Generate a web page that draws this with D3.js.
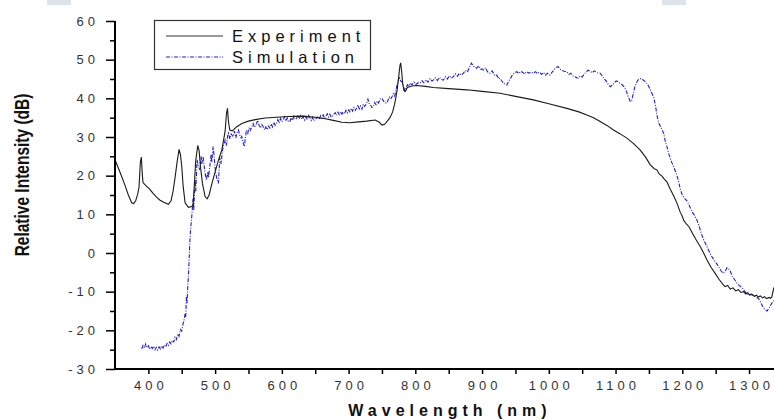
<!DOCTYPE html>
<html>
<head>
<meta charset="utf-8">
<script src="https://cdn.jsdelivr.net/npm/d3@7"></script>
<style>
  html, body { margin: 0; padding: 0; background: #fff; overflow: hidden; }
  svg { display: block; }
  text { font-family: "Liberation Sans", Arial, sans-serif; }
</style>
</head>
<body>
<svg id="chart" width="774" height="419"></svg>
<script>
// Measured spectrum (black) — wavelength in nm, intensity in dB
const expWavelength = [350,355,360,365,370,375,378,381,384,386,388,389.5,391,392,397,402,407,412,417,423,430,434,437,440,443,446,448,450,452,455,460,465,467,469,471,474,476,478,481,485,488,491,495,500,505,510,513,515,517,518.5,520,522,526,532,540,550,560,575,592,610,632,650,665,677,690,702,715,727,740,746,750,754,758,762,766,769,771,773,775,777,778,779.5,781,783,785,788,795,802,815,827,850,877,900,927,950,977,1000,1027,1045,1057,1067,1077,1087,1097,1107,1117,1127,1137,1145,1152,1158,1162,1165,1170,1172,1177,1182,1187,1192,1197,1200,1202,1206,1210,1214,1220,1227,1232,1237,1243,1249,1255,1260,1264,1268,1272,1276,1280,1284,1288,1292,1295,1298,1301,1304,1308,1311,1314,1317,1320,1323,1326,1330,1332,1334,1337,1342];
const experiment    = [24.1,22.0,19.8,17.5,15.0,13.0,12.8,13.5,15.2,17.0,23.5,24.8,20.0,18.2,17.3,16.5,15.4,14.5,13.7,13.1,12.6,13.5,16.0,19.5,23.5,26.8,25.5,22.5,17.5,13.0,11.8,12.0,12.5,18.0,24.0,27.8,26.5,22.5,18.0,14.6,14.0,15.0,17.8,21.0,24.0,26.6,29.5,31.5,36.0,37.4,34.0,31.8,31.6,32.6,33.5,34.1,34.5,34.9,35.1,35.3,35.4,35.1,34.7,34.3,33.8,33.7,33.9,34.1,34.4,33.8,33.1,33.3,34.1,35.0,36.5,38.5,40.4,42.5,45.5,48.5,49.2,47.0,43.9,42.0,41.8,42.8,43.2,43.3,43.1,42.8,42.5,42.2,41.8,41.3,40.5,39.6,38.6,37.4,36.5,35.7,35.0,34.0,33.0,31.8,30.8,29.7,28.3,26.6,24.8,22.8,21.8,21.5,20.5,19.8,19.3,18.4,16.5,14.8,12.9,10.5,9.5,8.5,7.5,6.8,5.5,3.6,1.6,0.0,-1.8,-3.7,-5.2,-6.8,-7.9,-8.7,-8.4,-9.3,-9.0,-9.8,-9.5,-10.2,-10.0,-10.6,-10.3,-10.9,-10.7,-11.2,-10.9,-11.4,-11.1,-11.6,-11.3,-11.8,-11.5,-11.7,-11.4,-9.1,-10.2,-7.5,-8.0];

// Simulated spectrum (blue, dash-dot)
const simWavelength = [390,392,394,396,398,400,402,404,406,408,410,412,414,416,418,420,422,424,426,428,430,432,434,436,438,440,442,444,446,448,450,452,454,455,456,457,458,459,460,461,462,463,465,467,468,470,471,473,475,477,479,480,482,484,486,487,489,490,492,494,495,497,498,500,501,503,505,506,507,509,511,513,515,517,519,520,522,524,527,529,531,533,535,537,539,540,542,544,545,547,549,551,553,555,557,559,562,564,566,568,570,572,574,576,578,580,582,584,586,588,590,592,594,596,598,600,602,604,606,608,610,612,614,616,618,620,622,624,626,628,630,632,634,636,638,640,642,644,646,648,650,652,654,656,658,660,662,664,666,668,670,672,674,677,680,682,684,686,688,690,692,694,696,698,700,702,704,706,708,710,712,714,716,718,720,722,724,727,729,731,733,735,737,739,741,743,745,747,750,752,754,757,759,761,763,765,767,769,771,772,774,776,778,780,782,784,786,788,790,792,795,798,801,804,807,810,813,816,819,822,825,827,830,833,836,839,842,845,848,851,854,857,860,863,866,869,872,875,878,881,884,887,890,892,895,898,900,902,905,908,910,912,915,918,920,922,925,927,929,932,935,937,940,943,946,949,952,955,958,961,964,967,970,973,977,980,983,986,989,992,995,998,1002,1005,1008,1011,1014,1017,1020,1023,1027,1030,1033,1036,1039,1042,1044,1047,1050,1053,1056,1059,1062,1065,1068,1071,1074,1077,1080,1083,1086,1089,1092,1095,1098,1101,1104,1107,1110,1113,1116,1119,1122,1124,1126,1129,1132,1135,1138,1141,1144,1147,1150,1153,1157,1160,1162,1165,1168,1172,1175,1177,1180,1184,1187,1190,1194,1197,1200,1204,1207,1210,1214,1218,1222,1226,1229,1232,1236,1240,1243,1246,1250,1254,1258,1261,1264,1267,1270,1272,1275,1278,1282,1286,1290,1293,1296,1300,1304,1308,1311,1315,1318,1321,1324,1327,1329,1331,1334,1337,1340];
const simulation    = [-24.8,-23.9,-24.6,-23.5,-24.4,-24.0,-24.9,-24.2,-24.7,-24.1,-25.0,-24.4,-25.1,-24.3,-24.8,-24.0,-24.6,-23.8,-24.3,-23.4,-23.9,-23.0,-23.5,-22.6,-23.0,-21.8,-22.4,-20.9,-21.5,-19.8,-20.2,-18.3,-17.0,-15.6,-16.5,-11.3,-13.0,-8.5,-6.1,-2.0,2.5,5.5,9.4,14.0,11.0,18.9,16.0,24.1,22.5,21.5,25.0,23.0,24.9,22.0,19.5,18.9,21.0,19.5,22.3,25.5,23.5,27.5,26.0,22.0,20.6,19.0,18.0,21.5,24.9,23.0,26.6,28.0,29.2,27.8,30.5,31.0,29.5,30.8,30.1,31.5,29.8,31.2,31.8,30.5,29.8,30.1,28.5,27.5,29.5,31.8,31.0,32.5,31.8,32.7,33.5,32.5,33.5,34.3,33.0,32.3,33.2,32.7,31.8,32.6,31.9,32.8,32.3,33.4,32.6,33.8,33.0,33.5,34.5,33.6,34.8,34.0,34.4,35.2,34.1,34.9,33.9,34.0,35.0,34.3,35.4,34.6,34.8,35.6,34.7,35.5,34.6,35.3,34.4,35.2,34.5,35.6,35.0,34.3,35.1,34.2,34.9,34.8,35.4,34.6,35.5,34.9,35.7,34.8,35.3,36.0,35.2,35.9,35.1,35.7,36.3,35.6,36.4,35.8,36.6,35.9,36.5,36.0,36.9,36.2,37.0,36.5,37.4,36.7,37.6,36.9,37.5,38.3,37.3,38.0,37.2,38.5,37.9,38.7,39.8,38.6,38.2,37.6,37.8,38.9,38.4,39.3,38.8,39.8,40.0,39.4,38.9,38.7,39.5,40.3,39.8,40.4,41.2,40.6,42.0,43.0,44.3,45.6,44.5,44.3,43.2,42.0,42.6,43.5,43.1,43.9,43.5,44.2,43.6,44.0,43.9,44.6,44.0,44.8,44.2,45.1,44.5,44.7,45.3,44.6,45.4,44.9,44.7,45.6,45.0,45.8,45.2,45.6,46.3,45.7,46.5,46.0,46.5,47.2,46.8,48.0,49.1,48.3,48.0,47.8,48.4,47.5,47.6,47.3,47.9,46.9,46.6,46.5,47.1,46.2,45.8,46.0,45.0,45.2,44.6,44.0,43.6,43.4,44.5,45.3,46.2,46.6,46.9,46.4,47.0,46.7,46.3,46.9,46.5,46.8,46.5,46.9,46.4,46.8,46.2,46.7,46.0,46.5,46.0,46.8,47.4,48.0,48.2,47.5,47.2,47.0,46.9,46.2,46.5,45.8,45.6,45.3,45.2,45.8,45.5,46.3,46.8,47.3,47.0,46.6,47.1,46.8,46.5,46.5,45.8,45.0,44.5,43.6,43.0,43.4,44.0,44.5,44.3,43.8,43.5,43.0,41.9,40.5,39.2,39.4,40.8,43.0,44.3,45.0,45.1,44.8,44.4,43.9,43.0,41.8,40.4,38.0,35.6,33.5,32.5,31.0,28.5,27.5,25.5,23.5,22.3,21.0,18.9,16.5,15.0,14.0,13.5,12.5,10.8,9.8,8.5,6.5,4.8,3.4,2.0,0.5,-0.6,-1.4,-2.4,-3.4,-4.6,-5.2,-4.8,-3.8,-4.2,-4.8,-6.0,-6.8,-7.8,-8.5,-9.0,-9.8,-10.4,-10.8,-10.6,-11.2,-11.3,-12.0,-13.0,-14.0,-14.7,-15.0,-14.5,-13.9,-13.0,-12.4,-12.0];

// Axis ticks
const xMajorTicks = [400,500,600,700,800,900,1000,1100,1200,1300];
const xMinorTicks = [450,550,650,750,850,950,1050,1150,1250,1350];
const yMajorTicks = [60,50,40,30,20,10,0,-10,-20,-30];
const yMajorLabels = ["60","50","40","30","20","10","0","-10","-20","-30"];
const yMinorTicks = [55,45,35,25,15,5,-5,-15,-25];

const seriesNames = ["Experiment", "Simulation"];

const svg = d3.select("#chart");

// Soft grey tabs along the top edge
svg.append("rect").attr("x", 47).attr("y", 0).attr("width", 24).attr("height", 5).attr("fill", "#dde3ea");
svg.append("rect").attr("x", 662).attr("y", 0).attr("width", 24).attr("height", 5).attr("fill", "#dde3ea");

const x = d3.scaleLinear().domain([350, 1350]).range([115, 782.4]);
const y = d3.scaleLinear().domain([-30, 60]).range([369, 21]);

const lineGen = d3.line().x(d => x(d[0])).y(d => y(d[1]));

const expData = expWavelength.map((w, i) => [w, experiment[i]]);
const simData = simWavelength.map((w, i) => [w, simulation[i]]);

// Curves
svg.append("path")
  .datum(simData)
  .attr("d", lineGen)
  .attr("fill", "none")
  .attr("stroke", "#1f1fc8")
  .attr("stroke-width", 1.1)
  .attr("stroke-dasharray", "4,1.5,1,1.5");

svg.append("path")
  .datum(expData)
  .attr("d", lineGen)
  .attr("fill", "none")
  .attr("stroke", "#1a1a1a")
  .attr("stroke-width", 1.1);

// Y axis
const yAxis = svg.append("g").attr("transform", "translate(115,0)");
yAxis.call(d3.axisLeft(y).tickValues(yMajorTicks).tickSize(9).tickFormat((d, i) => yMajorLabels[i]));
yAxis.append("g").call(d3.axisLeft(y).tickValues(yMinorTicks).tickSize(5).tickFormat(""));
yAxis.selectAll("path.domain").attr("stroke", "#000").attr("stroke-width", 2);
yAxis.selectAll(".tick line").attr("stroke", "#000").attr("stroke-width", 1.5);
yAxis.selectAll(".tick text")
  .attr("x", -16)
  .attr("fill", "#333")
  .style("font-size", "13px")
  .style("letter-spacing", "4px");
yAxis.selectAll(".domain").attr("d", `M0,${y(60)}V${y(-30)}`);

// X axis
const xAxis = svg.append("g").attr("transform", "translate(0,369)");
xAxis.call(d3.axisBottom(x).tickValues(xMajorTicks).tickSize(5).tickFormat(d3.format("d")));
xAxis.append("g").call(d3.axisBottom(x).tickValues(xMinorTicks).tickSize(5).tickFormat(""));
xAxis.selectAll("path.domain").attr("stroke", "#000").attr("stroke-width", 2);
xAxis.selectAll(".tick line").attr("stroke", "#000").attr("stroke-width", 1.5);
xAxis.selectAll(".tick text")
  .attr("y", 12)
  .attr("dx", "2px")
  .attr("fill", "#333")
  .style("font-size", "13px")
  .style("letter-spacing", "4px");
xAxis.selectAll(".domain").attr("d", `M${x(350)},0H${x(1350)}`);

// Axis titles
svg.append("text")
  .attr("transform", "translate(29,175) rotate(-90) scale(1,1.35)")
  .attr("text-anchor", "middle")
  .attr("fill", "#111")
  .style("font-size", "15.5px")
  .style("font-weight", "bold")
  .text("Relative Intensity (dB)");

svg.append("text")
  .attr("x", 450)
  .attr("y", 416)
  .attr("text-anchor", "middle")
  .attr("fill", "#111")
  .style("font-size", "16px")
  .style("font-weight", "bold")
  .style("letter-spacing", "5px")
  .text("Wavelength (nm)");

// Legend
const legend = svg.append("g");
legend.append("rect")
  .attr("x", 154.5).attr("y", 20.5).attr("width", 216).attr("height", 49)
  .attr("fill", "#fff").attr("stroke", "#333").attr("stroke-width", 1.2);
legend.append("line")
  .attr("x1", 166).attr("x2", 223).attr("y1", 36).attr("y2", 36)
  .attr("stroke", "#333").attr("stroke-width", 1.1);
legend.append("line")
  .attr("x1", 166).attr("x2", 223).attr("y1", 57).attr("y2", 57)
  .attr("stroke", "#1f1fc8").attr("stroke-width", 1)
  .attr("stroke-dasharray", "4,1.5,1,1.5");
legend.selectAll("text.lab")
  .data(seriesNames)
  .join("text")
  .attr("class", "lab")
  .attr("x", 232)
  .attr("y", (d, i) => 41.5 + i * 21)
  .attr("fill", "#111")
  .style("font-size", "16.5px")
  .style("letter-spacing", "5px")
  .text(d => d);
</script>
</body>
</html>
